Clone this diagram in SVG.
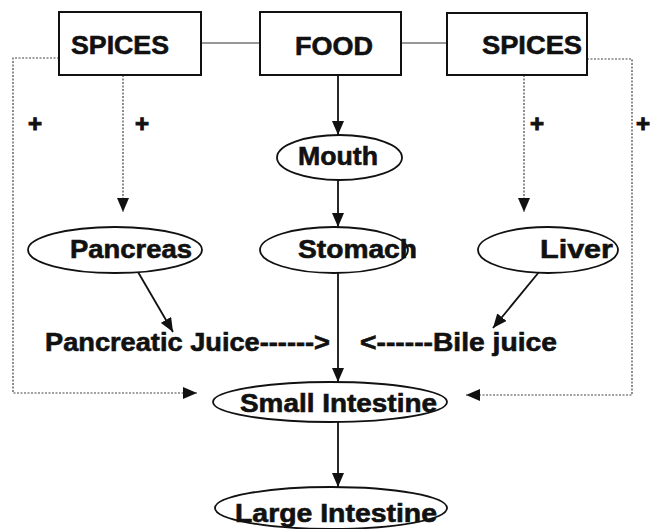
<svg xmlns="http://www.w3.org/2000/svg" width="654" height="529" viewBox="0 0 654 529">
<style>
.box{fill:#fff;stroke:#111;stroke-width:2}
.ell{fill:#fff;stroke:#111;stroke-width:1.8}
.t{font-family:"Liberation Sans",Arial,sans-serif;font-weight:bold;fill:#111;stroke:#111;stroke-width:0.6}
.plus{font-family:"Liberation Sans",Arial,sans-serif;font-weight:bold;fill:#111;stroke:#111;stroke-width:1}
.solid{stroke:#111;stroke-width:1.8;fill:none}
.thin{stroke:#333;stroke-width:1.2;fill:none}
.dot{stroke:#444;stroke-width:1.2;fill:none;stroke-dasharray:2 1.5}
</style>
<defs>
<marker id="ah" markerUnits="userSpaceOnUse" markerWidth="14" markerHeight="12" refX="14" refY="6" orient="auto">
<path d="M0,0 L14,6 L0,12 z" fill="#111"/>
</marker>
</defs>
<rect width="654" height="529" fill="#fff"/>
<g id="connectors">
<line class="thin" x1="201" y1="43" x2="260" y2="43"/>
<line class="thin" x1="401" y1="43" x2="447" y2="43"/>
<polyline class="dot" points="59,58 13,58 13,393 197,393" marker-end="url(#ah)"/>
<line class="dot" x1="123" y1="75" x2="123" y2="212" marker-end="url(#ah)"/>
<polyline class="dot" points="587,59 632,59 632,395 466,395" marker-end="url(#ah)"/>
<line class="dot" x1="524" y1="75" x2="524" y2="212" marker-end="url(#ah)"/>
<line class="solid" x1="338" y1="75" x2="338" y2="135" marker-end="url(#ah)"/>
<line class="solid" x1="338" y1="180" x2="338" y2="227" marker-end="url(#ah)"/>
<line class="solid" x1="338" y1="273" x2="338" y2="382" marker-end="url(#ah)"/>
<line class="solid" x1="338" y1="422" x2="338" y2="487" marker-end="url(#ah)"/>
<line class="solid" x1="138" y1="272" x2="173" y2="332" marker-end="url(#ah)"/>
<line class="solid" x1="539" y1="272" x2="493" y2="328" marker-end="url(#ah)"/>
</g>
<g id="spices-left"><rect class="box" x="59" y="12" width="142" height="63"/><text class="t" x="71" y="54" font-size="26" textLength="98" lengthAdjust="spacingAndGlyphs">SPICES</text></g>
<g id="food"><rect class="box" x="260" y="12" width="141" height="63"/><text class="t" x="295" y="55" font-size="26" textLength="78" lengthAdjust="spacingAndGlyphs">FOOD</text></g>
<g id="spices-right"><rect class="box" x="447" y="13" width="140" height="62"/><text class="t" x="482" y="54" font-size="26" textLength="100" lengthAdjust="spacingAndGlyphs">SPICES</text></g>
<g id="plus-signs">
<text class="plus" x="35" y="132" font-size="24" text-anchor="middle">+</text>
<text class="plus" x="142" y="132" font-size="24" text-anchor="middle">+</text>
<text class="plus" x="537" y="132" font-size="24" text-anchor="middle">+</text>
<text class="plus" x="643" y="132" font-size="24" text-anchor="middle">+</text>
</g>
<g id="mouth"><ellipse class="ell" cx="339.5" cy="157.5" rx="62.5" ry="22.5"/><text class="t" x="298" y="165" font-size="26" textLength="80" lengthAdjust="spacingAndGlyphs">Mouth</text></g>
<g id="pancreas"><ellipse class="ell" cx="115" cy="250" rx="87" ry="23"/><text class="t" x="70" y="258" font-size="25" textLength="122" lengthAdjust="spacingAndGlyphs">Pancreas</text></g>
<g id="stomach"><ellipse class="ell" cx="334" cy="250" rx="74" ry="23"/><text class="t" x="298" y="258" font-size="25" textLength="119" lengthAdjust="spacingAndGlyphs">Stomach</text></g>
<g id="liver"><ellipse class="ell" cx="548" cy="250" rx="70" ry="23"/><text class="t" x="540" y="258" font-size="25" textLength="73" lengthAdjust="spacingAndGlyphs">Liver</text></g>
<g id="pancreatic-juice"><text class="t" x="45" y="351" font-size="25" textLength="285" lengthAdjust="spacingAndGlyphs">Pancreatic Juice------&gt;</text></g>
<g id="bile-juice"><text class="t" x="360" y="351" font-size="25" textLength="197" lengthAdjust="spacingAndGlyphs">&lt;------Bile juice</text></g>
<g id="small-intestine"><ellipse class="ell" cx="330" cy="402" rx="117" ry="20"/><text class="t" x="240" y="412" font-size="25" textLength="197" lengthAdjust="spacingAndGlyphs">Small Intestine</text></g>
<g id="large-intestine"><ellipse class="ell" cx="331" cy="508" rx="116" ry="21"/><text class="t" x="235" y="522" font-size="25" textLength="202" lengthAdjust="spacingAndGlyphs">Large Intestine</text></g>
</svg>
